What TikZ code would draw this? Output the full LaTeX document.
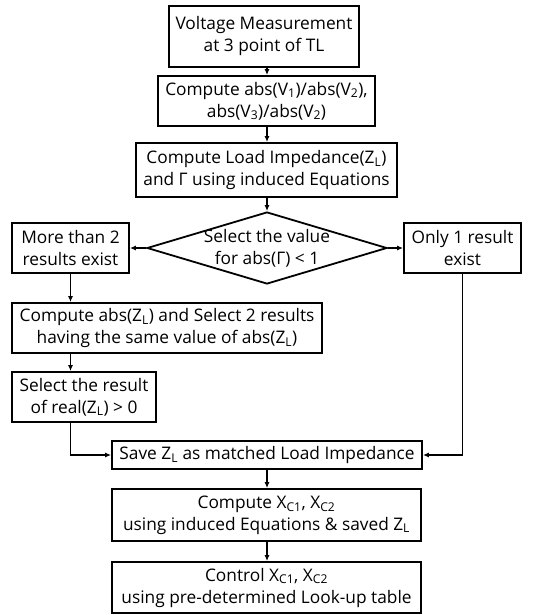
\documentclass[tikz,border=0pt]{standalone}
\usepackage{fontspec}
\setmainfont{Open Sans}
\usetikzlibrary{arrows.meta,shapes.geometric}
\newcommand{\sub}[1]{\textsubscript{#1}}
\begin{document}
\begin{tikzpicture}[
    x=1pt, y=1pt,
    every node/.style={font=\fontsize{17.3}{22}\selectfont, align=center, inner sep=0pt},
    stepbox/.style={rectangle, draw, line width=1.8pt},
    decision/.style={diamond, draw, line width=1.8pt, minimum width=240pt, minimum height=72pt},
    flow/.style={draw, line width=1.2pt, -{Latex[length=6pt,width=5pt]}}
]
    \useasboundingbox (0,0) rectangle (541,-615);
    \node [stepbox, minimum width=190pt, minimum height=61pt] (volt) at (264,-36.5)
        {Voltage Measurement\\at 3 point of TL};
    \node [stepbox, minimum width=217pt, minimum height=50pt] (ratio) at (266.5,-101)
        {Compute abs(V\sub{1})/abs(V\sub{2}),\\abs(V\sub{3})/abs(V\sub{2})};
    \node [stepbox, minimum width=261pt, minimum height=54pt] (imp) at (266.5,-170)
        {Compute Load Impedance(Z\sub{L})\\and Γ using induced Equations};
    \node [decision] (sel) at (267,-248) {};
    \node (seltext) at (sel) {Select the value\\for abs(Γ) < 1};
    \node [stepbox, minimum width=117pt, minimum height=50pt] (more) at (70.5,-248)
        {More than 2\\results exist};
    \node [stepbox, minimum width=117pt, minimum height=50pt] (only) at (462.5,-248)
        {Only 1 result\\exist};
    \node [stepbox, minimum width=310pt, minimum height=50pt] (absz) at (167,-328)
        {Compute abs(Z\sub{L}) and Select 2 results\\having the same value of abs(Z\sub{L})};
    \node [stepbox, minimum width=144pt, minimum height=50pt] (real) at (84,-397)
        {Select the result\\of real(Z\sub{L}) > 0};
    \node [stepbox, minimum width=310pt, minimum height=28pt] (save) at (267,-455)
        {Save Z\sub{L} as matched Load Impedance};
    \node [stepbox, minimum width=309pt, minimum height=52pt] (xc) at (266.5,-515)
        {Compute X\sub{C1}, X\sub{C2}\\using induced Equations \& saved Z\sub{L}};
    \node [stepbox, minimum width=309pt, minimum height=51pt] (ctrl) at (266.5,-587.5)
        {Control X\sub{C1}, X\sub{C2}\\using pre-determined Look-up table};

    \draw [flow] (volt.south -| sel) -- (ratio.north -| sel);
    \draw [flow] (ratio.south -| sel) -- (imp.north -| sel);
    \draw [flow] (imp.south -| sel) -- (sel.north);
    \draw [flow] (sel.west) -- (more.east);
    \draw [flow] (sel.east) -- (only.west);
    \draw [flow] (more.south) -- (more.south |- absz.north);
    \draw [flow] (more.south |- absz.south) -- (more.south |- real.north);
    \draw [flow] (more.south |- real.south) |- (save.west);
    \draw [flow] (only.south) |- (save.east);
    \draw [flow] (save.south -| sel) -- (xc.north -| sel);
    \draw [flow] (xc.south -| sel) -- (ctrl.north -| sel);
\end{tikzpicture}
\end{document}
